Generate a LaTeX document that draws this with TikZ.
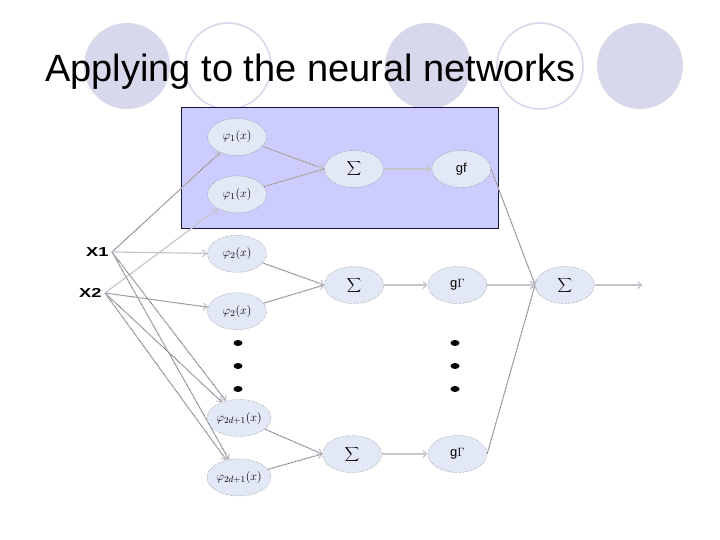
\documentclass[tikz,border=0pt]{standalone}
\usepackage{fontspec}
\setmainfont{Liberation Sans}
\usetikzlibrary{shapes.geometric,arrows.meta,positioning}
\definecolor{slidedeco}{RGB}{216,216,236}
\definecolor{panelblue}{RGB}{204,204,255}
\definecolor{panelnavy}{RGB}{20,20,70}
\definecolor{bubble}{RGB}{226,232,245}
\definecolor{wiregray}{RGB}{198,198,206}

\begin{document}
\begin{tikzpicture}[x=1pt,y=-1pt,node distance=20pt and 48pt]
  \tikzstyle{unit}=[ellipse,draw=black!60,densely dotted,fill=bubble,minimum width=59pt,minimum height=37pt,inner sep=0pt,font=\fontsize{13}{13}\selectfont]
  \tikzstyle{inlabel}=[font=\bfseries\fontsize{13}{13}\selectfont,anchor=east]
  \tikzstyle{wire}=[draw=wiregray,line width=1.2pt,-{Straight Barb[length=4pt,width=7pt]}]
  \tikzstyle{dotwire}=[wire,postaction={draw=black!75,densely dotted,line width=0.5pt,-}]
  % slide background
  \fill[white] (0,0) rectangle (720,540);
  \fill[slidedeco] (127,66) circle (43pt);
  \draw[slidedeco,line width=1.6pt] (228,66) circle (43pt);
  \fill[slidedeco] (428,66) circle (43pt);
  \draw[slidedeco,line width=1.6pt] (540,66) circle (43pt);
  \fill[slidedeco] (640,66) circle (43pt);
  \node[anchor=base west,font=\fontsize{38}{38}\selectfont,inner sep=0pt] (title) at (45,82) {Applying to the neural networks};
  % shaded block
  \draw[panelnavy,fill=panelblue,line width=0.8pt] (181,107) rectangle (498,228);
  % inputs
  \node[inlabel] (x1) at (112,252) {\scalebox{1.4}[1]{X1}};
  \node[inlabel] (x2) at (105,293) {\scalebox{1.4}[1]{X2}};
  % basis functions
  \node[unit] (p1a) at (237,137) {$\varphi_1(x)$};
  \node[unit,below=of p1a] (p1b) {$\varphi_1(x)$};
  \node[unit,below=22pt of p1b] (p2a) {$\varphi_2(x)$};
  \node[unit,below=of p2a] (p2b) {$\varphi_2(x)$};
  \node[unit] (pna) at (239,418) {$\varphi_{2d+1}(x)$};
  \node[unit,below=22pt of pna] (pnb) {$\varphi_{2d+1}(x)$};
  % sums and outputs
  \node[unit] (s1) at (354,169) {$\displaystyle\sum$};
  \node[unit,right=of s1] (g1) {gf};
  \node[unit] (s2) at (354,285) {$\displaystyle\sum$};
  \node[unit,right=44pt of s2] (g2) {g$\Gamma$};
  \node[unit] (s3) at (352,454) {$\displaystyle\sum$};
  \node[unit,right=46pt of s3] (g3) {g$\Gamma$};
  \node[unit,right=of g2] (sr) {$\displaystyle\sum$};
  \coordinate[right=48pt of sr] (out);
  \foreach \yy in {343,366,389} {
    \fill (238,\yy) ellipse (4.5pt and 3pt);
    \fill (455,\yy) ellipse (4.5pt and 3pt);
  }
  \draw[dotwire] (x1.east) -- (p1a);
  \draw[wire] (x2.east) -- (p1b);
  \draw[wire] (x1.east) -- (p2a);
  \draw[dotwire] (x2.east) -- (p2b);
  \draw[dotwire] (x1.east) -- (pna);
  \draw[dotwire] (x1.east) -- (pnb);
  \draw[dotwire] (x2.east) -- (pna);
  \draw[dotwire] (x2.east) -- (pnb);
  \draw[dotwire] (p1a) -- (s1.west);
  \draw[dotwire] (p1b) -- (s1.west);
  \draw[dotwire] (p2a) -- (s2.west);
  \draw[dotwire] (p2b) -- (s2.west);
  \draw[dotwire] (pna) -- (s3.west);
  \draw[dotwire] (pnb) -- (s3.west);
  \draw[wire] (s1) -- (g1);
  \draw[wire] (s2) -- (g2);
  \draw[wire] (s3) -- (g3);
  \draw[dotwire] (g1.east) -- (sr.west);
  \draw[wire] (g2) -- (sr);
  \draw[dotwire] (g3.east) -- (sr.west);
  \draw[wire] (sr) -- (out);
\end{tikzpicture}
\end{document}
